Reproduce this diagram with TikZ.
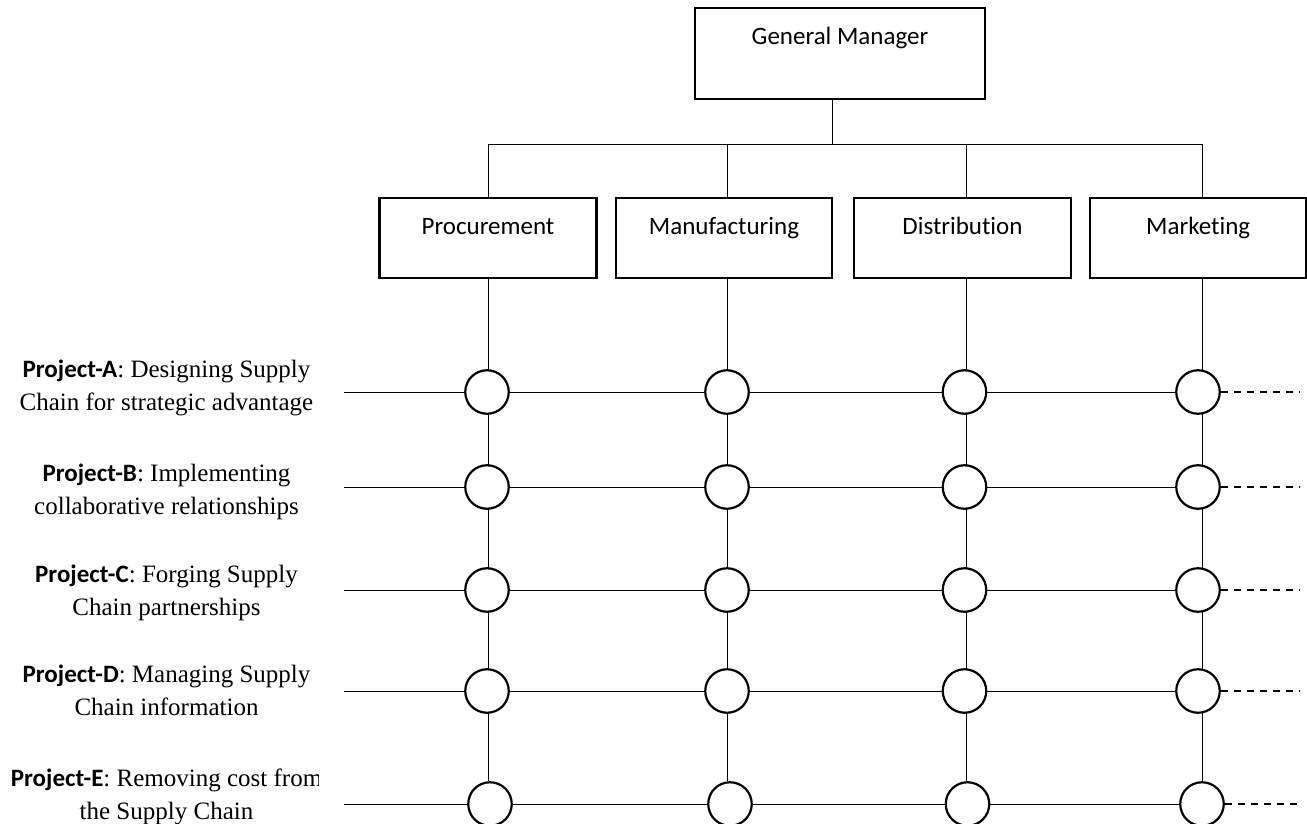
\documentclass[tikz,border=0pt]{standalone}
\usepackage{fontspec}
\setmainfont{Liberation Serif}
\newfontfamily\calibrifont[Ligatures=NoCommon]{Carlito}
\usetikzlibrary{backgrounds}

\begin{document}
\begin{tikzpicture}[x=1pt,y=-1pt,line width=2.2pt,
  orgbox/.style={draw,rectangle,inner sep=0pt,text height=36pt,
    font=\calibrifont\fontsize{25}{30}\selectfont},
  deptbox/.style={orgbox,minimum width=217pt,text depth=44pt},
  junction/.style={draw,circle,fill=white,inner sep=0pt,minimum size=43.5pt},
  projlabel/.style={align=center,anchor=base,inner sep=0pt,
    font=\fontsize{25}{33}\selectfont},
  tail/.style={dash pattern=on 7pt off 6pt}]

\useasboundingbox (0,0) rectangle (1307,824);

% management boxes
\node[orgbox,minimum width=290pt,text depth=54.7pt] (gm) at (840,53.65) {General Manager};
\node[deptbox] (proc) at (488,238.3) {Procurement};
\node[deptbox,minimum width=216.6pt] (manu) at (724,238.3) {Manufacturing};
\node[deptbox] (dist) at (962.5,238.3) {Distribution};
\node[deptbox,minimum width=216.3pt] (mark) at (1198.2,238.3) {Marketing};

% branch points of the tree
\coordinate (hub) at (832.3,144.3);
\coordinate (sP) at (488,144.3);
\coordinate (sM) at (727.3,144.3);
\coordinate (sD) at (965.7,144.3);
\coordinate (sK) at (1202,144.3);

% project rows: junctions, row starts and dashed ends
\foreach \r/\y in {A/392,B/487,C/590,D/691} {
  \node[junction] (P-\r) at (487,\y) {};
  \node[junction] (M-\r) at (727,\y) {};
  \node[junction] (D-\r) at (964.5,\y) {};
  \node[junction] (K-\r) at (1198,\y) {};
}
\node[junction] (P-E) at (490,804) {};
\node[junction] (M-E) at (730,804) {};
\node[junction] (D-E) at (967.5,804) {};
\node[junction] (K-E) at (1202,804) {};

\foreach \r/\y in {A/392,B/487,C/590,D/691,E/804} {
  \coordinate (start-\r) at (344.3,\y);
  \coordinate (end-\r) at (1299,\y);
}

% connectors
\begin{scope}[on background layer]
  \draw (gm.south -| hub) -- (hub);
  \draw (sP) -- (sK);
  \foreach \s/\b/\c in {sP/proc/P,sM/manu/M,sD/dist/D,sK/mark/K} {
    \draw (\s) -- (\s |- \b.north);
    \draw (\b.south -| \s) -- (\c-E.north -| \s);
  }
  \foreach \r in {A,B,C,D,E} {
    \draw (start-\r) -- (K-\r.west);
  }
\end{scope}
\foreach \r in {A,B,C,D,E} {
  \draw[tail] (K-\r.east) -- (end-\r);
}

% project labels (anchored on the baseline of their second line)
\node[projlabel] (lab-A) at (166.5,410) {{\calibrifont\bfseries Project-A}: Designing Supply\\Chain for strategic advantage};
\node[projlabel] (lab-B) at (166.5,514) {{\calibrifont\bfseries Project-B}: Implementing\\collaborative relationships};
\node[projlabel] (lab-C) at (166.5,615) {{\calibrifont\bfseries Project-C}: Forging Supply\\Chain partnerships};
\node[projlabel] (lab-D) at (166.5,715) {{\calibrifont\bfseries Project-D}: Managing Supply\\Chain information};
\begin{scope}
  \clip (0,740) rectangle (318,824);
  \node[projlabel] (lab-E) at (166.5,819) {{\calibrifont\bfseries Project-E}: Removing cost from\\the Supply Chain};
\end{scope}
\end{tikzpicture}
\end{document}
